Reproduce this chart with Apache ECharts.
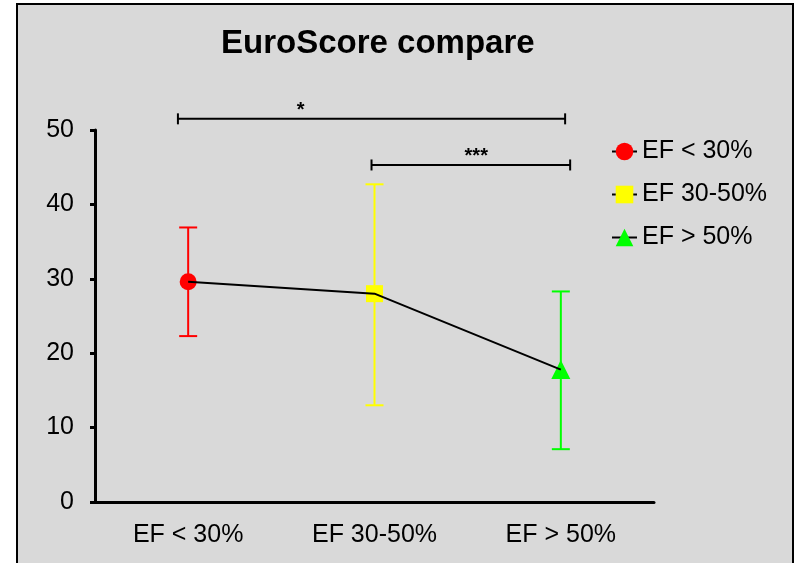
<!DOCTYPE html>
<html>
<head>
<meta charset="utf-8">
<style>
  html, body { margin: 0; padding: 0; background: #ffffff; }
  #chart { width: 798px; height: 563px; }
</style>
<script src="https://cdn.jsdelivr.net/npm/echarts@6/dist/echarts.min.js"></script>
</head>
<body>
<div id="chart"></div>
<script>
// Groups compared
const categories = ['EF < 30%', 'EF 30-50%', 'EF > 50%'];
// Mean EuroScore per group and the ends of its error bar
const means = [29.6, 28.0, 17.8];
const errLow = [22.3, 13.0, 7.1];
const errHigh = [36.9, 42.7, 28.3];
// Y axis scale
const yMin = 0;
const yMax = 50;
const yStep = 10;
// Significance brackets: [start, end, level, label position, label]
// start / end / label position are in category units (0 = first group)
const brackets = [
  [-0.055, 2.023, 51.5, 0.604, '*'],
  [0.984, 2.050, 45.3, 1.546, '***']
];

const groupColors = ['#ff0000', '#ffff00', '#00ff00'];
const groupSymbols = ['circle', 'rect', 'triangle'];
const FONT = '"Liberation Sans", Arial, sans-serif';

const chart = echarts.init(document.getElementById('chart'));

const markerSeries = categories.map((name, k) => ({
  name: name,
  type: 'line',
  data: means.map((v, i) => (i === k ? v : '-')),
  symbol: groupSymbols[k],
  symbolSize: k === 2 ? 19 : 17,
  itemStyle: { color: groupColors[k], borderWidth: 0 },
  lineStyle: { color: '#000', width: 2 },
  z: 4,
  silent: true,
  animation: false
}));

const errorSeries = {
  type: 'custom',
  name: 'error',
  data: categories.map((c, i) => [i, errLow[i], errHigh[i]]),
  z: 3,
  silent: true,
  renderItem: function (params, api) {
    const i = api.value(0);
    const lo = api.coord([i, api.value(1)]);
    const hi = api.coord([i, api.value(2)]);
    const cap = 9;
    const color = groupColors[params.dataIndex];
    const style = { stroke: color, lineWidth: 2 };
    return {
      type: 'group',
      children: [
        { type: 'line', shape: { x1: lo[0], y1: lo[1], x2: hi[0], y2: hi[1] }, style: style },
        { type: 'line', shape: { x1: hi[0] - cap, y1: hi[1], x2: hi[0] + cap, y2: hi[1] }, style: style },
        { type: 'line', shape: { x1: lo[0] - cap, y1: lo[1], x2: lo[0] + cap, y2: lo[1] }, style: style }
      ]
    };
  }
};

const trendSeries = {
  type: 'line',
  name: 'trend',
  data: means,
  symbol: 'none',
  lineStyle: { color: '#000', width: 2 },
  z: 6,
  silent: true,
  animation: false
};

const bracketSeries = {
  type: 'custom',
  name: 'brackets',
  xAxisIndex: 1,
  clip: false,
  silent: true,
  z: 5,
  data: brackets,
  renderItem: function (params, api) {
    const a = api.coord([api.value(0), api.value(2)]);
    const b = api.coord([api.value(1), api.value(2)]);
    const t = api.coord([api.value(3), api.value(2)]);
    const h = 5.5;
    const style = { stroke: '#000', lineWidth: 2 };
    return {
      type: 'group',
      children: [
        { type: 'line', shape: { x1: a[0], y1: a[1], x2: b[0], y2: b[1] }, style: style },
        { type: 'line', shape: { x1: a[0], y1: a[1] - h, x2: a[0], y2: a[1] + h }, style: style },
        { type: 'line', shape: { x1: b[0], y1: b[1] - h, x2: b[0], y2: b[1] + h }, style: style },
        {
          type: 'text',
          style: {
            x: t[0], y: t[1] - 18,
            text: brackets[params.dataIndex][4],
            fill: '#000',
            font: 'bold 20px ' + FONT,
            align: 'center',
            verticalAlign: 'top'
          }
        }
      ]
    };
  }
};

chart.setOption({
  animation: false,
  backgroundColor: 'transparent',
  graphic: [{
    type: 'rect',
    z: -10,
    shape: { x: 17, y: 4, width: 776, height: 580 },
    style: { fill: '#d9d9d9', stroke: '#000', lineWidth: 2 }
  }],
  title: {
    text: 'EuroScore compare',
    left: 216,
    top: 22,
    textStyle: { fontFamily: FONT, fontSize: 33, fontWeight: 'bold', color: '#000' }
  },
  legend: {
    data: categories,
    orient: 'vertical',
    left: 606,
    top: 134,
    itemWidth: 25,
    itemHeight: 22,
    itemGap: 18,
    textStyle: { fontFamily: FONT, fontSize: 25, color: '#000' },
    selectedMode: false
  },
  grid: { left: 95, right: 144, top: 130, bottom: 61, containLabel: false },
  xAxis: [{
    type: 'category',
    data: categories,
    axisLine: { onZero: false, lineStyle: { color: '#000', width: 3 } },
    axisTick: { alignWithLabel: true, length: 5, lineStyle: { color: '#000', width: 3 } },
    axisLabel: { fontFamily: FONT, fontSize: 25, color: '#000', margin: 21 },
    splitLine: { show: false }
  }, {
    type: 'value',
    min: -0.5,
    max: 2.5,
    show: false
  }],
  yAxis: {
    type: 'value',
    min: yMin,
    max: yMax,
    interval: yStep,
    axisLine: { show: true, onZero: false, lineStyle: { color: '#000', width: 3 } },
    axisTick: { show: true, length: 5, lineStyle: { color: '#000', width: 3 } },
    axisLabel: { fontFamily: FONT, fontSize: 25, color: '#000', margin: 21 },
    splitLine: { show: false }
  },
  series: [errorSeries].concat(markerSeries, [trendSeries, bracketSeries])
});
</script>
</body>
</html>
